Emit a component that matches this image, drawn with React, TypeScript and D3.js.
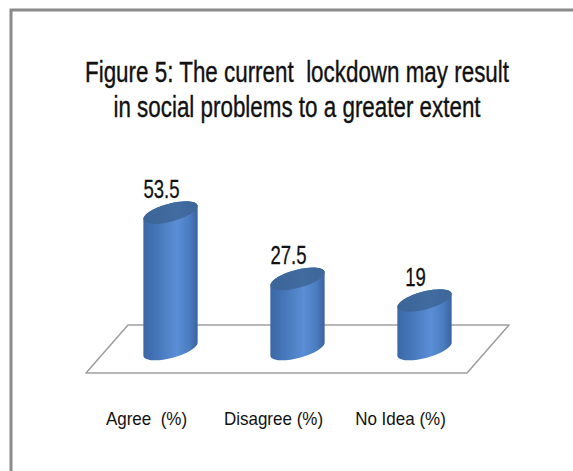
import React from 'react';
import * as d3 from 'd3';

// ---- data ----
const categories: string[] = ['Agree  (%)', 'Disagree (%)', 'No Idea (%)'];
const values: number[] = [53.5, 27.5, 19];
const valueLabels: string[] = ['53.5', '27.5', '19'];
const titleLines: string[] = [
  'Figure 5: The current  lockdown may result',
  'in social problems to a greater extent',
];

// ---- layout ----
const W = 573;
const H = 471;
const FLOOR_Y = 349;
const DEPTH_X = 21;
const DEPTH_Y = 24;
const ELL_RX = 28;
const ELL_RY = 9;
const ELL_ROT = -15;
const FONT = "'Liberation Sans', Arial, sans-serif";

function ellipsePoints(cx: number, cy: number): [number, number][] {
  const th = (ELL_ROT * Math.PI) / 180;
  const pts: [number, number][] = [];
  for (let i = 0; i < 72; i++) {
    const t = (i / 72) * Math.PI * 2;
    const a = ELL_RX * Math.cos(t);
    const b = ELL_RY * Math.sin(t);
    pts.push([cx + a * Math.cos(th) - b * Math.sin(th), cy + a * Math.sin(th) + b * Math.cos(th)]);
  }
  return pts;
}

export default function App() {
  const x = d3.scaleBand<string>().domain(categories).range([107, 488]).paddingInner(0).paddingOuter(0);
  const xFront = d3
    .scaleBand<string>()
    .domain(categories)
    .range([107 - DEPTH_X, 488 - DEPTH_X]);
  const y = d3.scaleLinear().domain([0, 60]).range([FLOOR_Y, FLOOR_Y - 153]);

  const [x0, x1] = x.range();
  const floor = d3.line()([
    [x0 + DEPTH_X, FLOOR_Y - DEPTH_Y],
    [x1 + DEPTH_X, FLOOR_Y - DEPTH_Y],
    [x1 - DEPTH_X, FLOOR_Y + DEPTH_Y],
    [x0 - DEPTH_X, FLOOR_Y + DEPTH_Y],
  ]) + 'Z';

  return (
    <svg
      width={W}
      height={H}
      viewBox={`0 0 ${W} ${H}`}
      style={{ position: 'fixed', left: 0, top: 0, background: '#fff' }}
    >
      <defs>
        <linearGradient id="bodyGrad" x1="0" x2="1" y1="0" y2="0">
          <stop offset="0" stopColor="#3a67a6" />
          <stop offset="0.25" stopColor="#4676b9" />
          <stop offset="0.62" stopColor="#5a8ed5" />
          <stop offset="0.85" stopColor="#4a7cc0" />
          <stop offset="1" stopColor="#3a639f" />
        </linearGradient>
        <linearGradient id="topGrad" x1="0" x2="1" y1="0" y2="0">
          <stop offset="0" stopColor="#3b6497" />
          <stop offset="0.6" stopColor="#416c9f" />
          <stop offset="1" stopColor="#3d6699" />
        </linearGradient>
      </defs>
      <rect x={11} y={10} width={W + 20} height={H + 20} fill="none" stroke="#8a8a8a" strokeWidth={3} />

      {titleLines.map((t, i) => (
        <text
          key={t}
          transform={`translate(${297},${82 + i * 35}) scale(0.8,1.04)`}
          textAnchor="middle"
          fontFamily={FONT}
          fontSize={28}
          fill="#111"
          stroke="#111"
          strokeWidth={0.35}
          style={{ whiteSpace: 'pre' }}
        >
          {t}
        </text>
      ))}

      <path d={floor} fill="#fff" stroke="#a0a0a0" strokeWidth={1.6} strokeLinejoin="round" />

      {categories.map((c, i) => {
        const cx = (x(c) as number) + x.bandwidth() / 2;
        const topY = y(values[i]);
        const baseY = y(0);
        const hull = d3.polygonHull([...ellipsePoints(cx, topY), ...ellipsePoints(cx, baseY)]) as [number, number][];
        const body = d3.line()(hull) + 'Z';
        return (
          <g key={c}>
            <path d={body} fill="url(#bodyGrad)" />
            <ellipse
              cx={cx}
              cy={topY}
              rx={ELL_RX}
              ry={ELL_RY}
              transform={`rotate(${ELL_ROT} ${cx} ${topY})`}
              fill="url(#topGrad)"
            />
            <text
              transform={`translate(${cx - 9},${topY - 15}) scale(0.7,1)`}
              textAnchor="middle"
              fontFamily={FONT}
              fontSize={26.5}
              fill="#111"
              stroke="#111"
              strokeWidth={0.3}
            >
              {valueLabels[i]}
            </text>
          </g>
        );
      })}

      {categories.map((c) => {
        const cx = (xFront(c) as number) + xFront.bandwidth() / 2 - 3;
        return (
          <text
            key={'lab' + c}
            transform={`translate(${cx},${425}) scale(1.0,1.1)`}
            textAnchor="middle"
            fontFamily={FONT}
            fontSize={17}
            fill="#111"
            style={{ whiteSpace: 'pre' }}
          >
            {c}
          </text>
        );
      })}
    </svg>
  );
}
